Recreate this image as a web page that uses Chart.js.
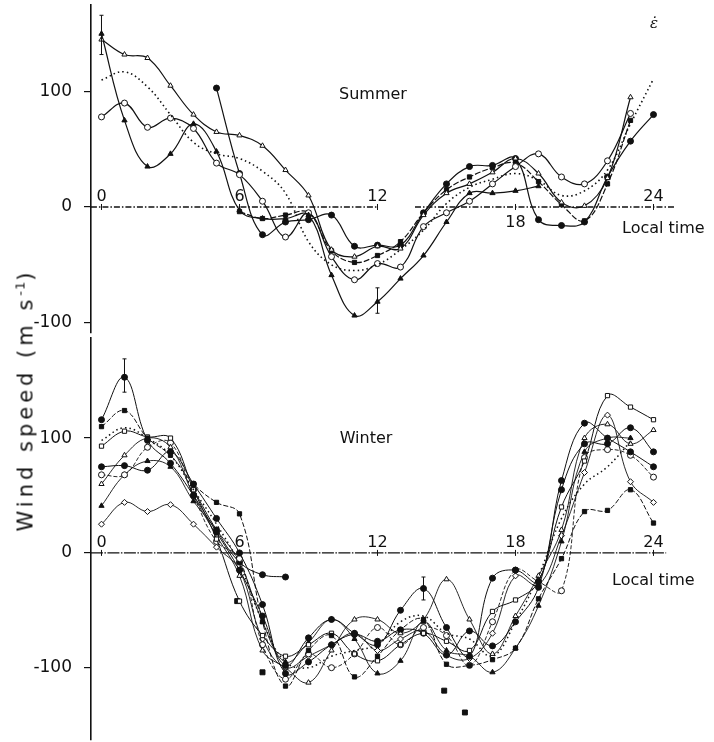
<!DOCTYPE html>
<html>
<head>
<meta charset="utf-8">
<script src="https://cdn.jsdelivr.net/npm/chart.js@4.4.1/dist/chart.umd.min.js"></script>
<style>
  html, body { margin: 0; background: #fff; overflow: hidden; }
  #wrap { position: relative; width: 714px; height: 742px; overflow: hidden; }
  #summer { position: absolute; left: 0; top: -20px; }
  #winter { position: absolute; left: 0; top: 316px; }
  #ytitle {
    position: absolute; left: 25px; top: 400px;
    transform: translate(-50%, -50%) rotate(-90deg);
    font: 21px "DejaVu Sans", sans-serif; letter-spacing: 4px;
    color: #111; white-space: nowrap;
  }
  #ytitle sup { font-size: 13px; letter-spacing: 1px; }
</style>
</head>
<body>
<div id="wrap">
  <canvas id="summer" width="714" height="380"></canvas>
  <canvas id="winter" width="714" height="446"></canvas>
  <div id="ytitle">Wind speed (m s<sup>-1</sup>)</div>
</div>
<script>
// local time, hours
var hours = [0,1,2,3,4,5,6,7,8,9,10,11,12,13,14,15,16,17,18,19,20,21,22,23,24];
var timeTicks = [0, 6, 12, 18, 24];
var speedTicks = [-100, 0, 100];

// summer curves (m/s)
var sOpenTri  = [145,132,129,105,80,65,62,53,32,10,-37,-43,-34,-36,-7,12,20,30,42,29,4,1,25,95,null];
var sFillTri  = [150,75,35,46,72,48,-3,-10,-10,-7,-59,-94,-82,-62,-42,-13,12,12,14,18,null,null,null,null,null];
var sDotted   = [110,117,104,80,56,46,42,31,12,-30,-50,-55,-50,-37,-20,3,17,24,29,23,10,14,32,72,111];
var sOpenCirc = [78,90,69,77,68,38,28,5,-26,-5,-43,-63,-49,-52,-17,-5,5,20,35,46,26,20,40,81,null];
var sFillCirc = [null,null,null,null,null,103,29,-24,-13,-11,-7,-34,-33,-33,-5,20,35,36,42,-11,-16,-13,26,57,80];
var sFillSq   = [null,null,null,null,null,null,-4,-10,-7,-5,-38,-48,-42,-30,-5,15,26,34,38,22,2,-12,20,75,null];

var sErrHours = [0, 12];
var sErrLo = [132, -92];
var sErrHi = [166, -70];

// winter curves (m/s)
var wFillCirc  = [116,153,98,78,50,18,-15,-55,-98,-74,-58,-70,-80,-50,-31,-65,-90,-22,-15,-25,63,113,100,88,75];
var wFillSq    = [110,124,100,85,60,44,34,-60,-116,-85,-72,-108,-90,-67,-58,-97,-98,-93,-83,-40,-5,36,37,55,26];
var wDotted    = [98,109,100,85,55,25,-10,-60,-95,-100,-90,-85,-80,-60,-55,-70,-75,-90,-60,-20,30,60,75,97,null];
var wOpenSq    = [93,106,101,100,55,12,-42,-72,-90,-80,-70,-88,-94,-80,-70,-77,-85,-51,-41,-25,40,80,137,127,116];
var wOpenTri   = [60,85,100,92,50,15,-20,-85,-100,-113,-85,-58,-58,-70,-58,-23,-58,-88,-55,-20,20,100,112,95,107];
var wFillCirc2 = [75,76,72,88,60,30,0,-45,-105,-95,-80,-71,-77,-67,-70,-89,-68,-81,-60,-30,55,95,95,109,88];
var wOpenCirc  = [68,68,92,96,50,10,-5,-80,-110,-88,-100,-88,-65,-80,-65,-72,-98,-60,-15,-25,-33,83,90,85,66];
var wFillTri   = [41,68,80,75,45,20,-8,-60,-95,-78,-58,-75,-105,-94,-60,-85,-90,-104,-83,-46,10,88,100,100,null];
var wDiamond   = [25,44,36,42,25,5,-15,-75,-100,-90,-80,-70,-85,-75,-68,-89,-92,-70,-20,-28,15,70,120,62,44];
var wShort     = [null,null,null,null,55,20,-8,-19,-21,null,null,null,null,null,null,null,null,null,null,null,null,null,null,null,null];

var wStrayHours  = [5.9, 7.0, 14.9, 15.8];
var wStrayValues = [-42, -104, -120, -139];

var wErrHours = [1, 14];
var wErrLo = [140, -41];
var wErrHi = [169, -21];

var xMin = -0.4565, xMax = 25.587;

function line(vals, st) {
  return {
    data: vals.map(function (v, i) { return { x: hours[i], y: v }; }),
    borderColor: '#111',
    borderWidth: st.w || 1.2,
    borderDash: st.dash || [],
    tension: 0.4,
    pointStyle: st.pt || 'circle',
    pointRadius: st.pt ? (st.r || 3) : 0,
    pointBackgroundColor: st.open ? '#fff' : '#111',
    pointBorderColor: '#111',
    pointBorderWidth: 1,
    spanGaps: false,
    clip: false
  };
}

function errBars(hrs, lo, hi) {
  return {
    id: 'errbars',
    afterDatasetsDraw: function (chart) {
      var ctx = chart.ctx, x = chart.scales.x, y = chart.scales.y;
      ctx.save();
      ctx.strokeStyle = '#111';
      ctx.lineWidth = 1;
      for (var i = 0; i < hrs.length; i++) {
        var px = x.getPixelForValue(hrs[i]);
        var a = y.getPixelForValue(lo[i]), b = y.getPixelForValue(hi[i]);
        ctx.beginPath();
        ctx.moveTo(px, a); ctx.lineTo(px, b);
        ctx.moveTo(px - 2, a); ctx.lineTo(px + 2, a);
        ctx.moveTo(px - 2, b); ctx.lineTo(px + 2, b);
        ctx.stroke();
      }
      ctx.restore();
    }
  };
}

// zero line, hour labels and panel captions
function deco(o) {
  return {
    id: 'deco',
    beforeDatasetsDraw: function (chart) {
      var ctx = chart.ctx, x = chart.scales.x, y = chart.scales.y;
      var y0 = y.getPixelForValue(0);
      ctx.save();
      ctx.strokeStyle = '#111';
      ctx.lineWidth = 1.3;
      ctx.setLineDash(o.dash);
      o.runs.forEach(function (r) {
        ctx.beginPath();
        ctx.moveTo(x.getPixelForValue(r[0]), y0);
        ctx.lineTo(x.getPixelForValue(r[1]), y0);
        ctx.stroke();
      });
      ctx.setLineDash([]);
      ctx.lineWidth = 1;
      timeTicks.forEach(function (t) {
        var px = x.getPixelForValue(t);
        ctx.beginPath();
        ctx.moveTo(px, y0 - 3); ctx.lineTo(px, y0 + 3);
        ctx.stroke();
      });
      ctx.fillStyle = '#111';
      ctx.font = '16px "DejaVu Sans", sans-serif';
      ctx.textAlign = 'center';
      ctx.textBaseline = 'alphabetic';
      timeTicks.forEach(function (t) {
        var below = o.below.indexOf(t) >= 0;
        ctx.fillText(String(t), x.getPixelForValue(t), below ? y0 + 20 : y0 - 6);
      });
      ctx.textAlign = 'left';
      ctx.fillText('Local time', o.localX, y0 + o.localDy);
      ctx.textAlign = 'center';
      ctx.fillText(o.title, o.titleX, o.titleY);
      if (o.mark) {
        ctx.font = 'italic 15px "DejaVu Serif", serif';
        ctx.fillText(o.mark, o.markX, o.markY);
      }
      ctx.restore();
    }
  };
}

function makeChart(id, datasets, yMin, yMax, pad, plugins) {
  return new Chart(document.getElementById(id), {
    type: 'line',
    data: { datasets: datasets },
    options: {
      responsive: false,
      animation: false,
      layout: { padding: { left: 0, right: 24, top: pad[0], bottom: pad[1] } },
      plugins: { legend: { display: false }, tooltip: { enabled: false } },
      scales: {
        x: { type: 'linear', min: xMin, max: xMax, display: false },
        y: {
          min: yMin, max: yMax,
          afterBuildTicks: function (s) { s.ticks = speedTicks.map(function (v) { return { value: v }; }); },
          afterFit: function (s) { s.width = 91; },
          grid: { drawOnChartArea: false, drawTicks: true, tickLength: 7, color: '#111', lineWidth: 1.2 },
          border: { display: true, color: '#111', width: 1.6 },
          ticks: { color: '#111', padding: 12, font: { family: 'DejaVu Sans', size: 17 } }
        }
      }
    },
    plugins: plugins
  });
}

makeChart('summer', [
  line(sOpenTri,  { pt: 'triangle', open: true }),
  line(sFillTri,  { pt: 'triangle' }),
  line(sDotted,   { dash: [1.5, 3], w: 1.6 }),
  line(sOpenCirc, { pt: 'circle', open: true }),
  line(sFillCirc, { pt: 'circle' }),
  line(sFillSq,   { pt: 'rect', dash: [6, 2] })
], -109.1, 174.9, [25, 27], [
  deco({ runs: [[-0.46, 12.02], [13.63, 24.93]], dash: [6, 2, 1.5, 2], below: [18],
         localX: 622, localDy: 26, title: 'Summer', titleX: 373, titleY: 119,
         mark: 'ε̇', markX: 654, markY: 48 }),
  errBars(sErrHours, sErrLo, sErrHi)
]);

var stray = {
  data: wStrayHours.map(function (h, i) { return { x: h, y: wStrayValues[i] }; }),
  showLine: false,
  pointStyle: 'rect', pointRadius: 3.5,
  pointBackgroundColor: '#111', pointBorderColor: '#111',
  clip: false
};

makeChart('winter', [
  line(wFillCirc,  { pt: 'circle', w: 1 }),
  line(wFillSq,    { pt: 'rect', w: 1, dash: [5, 2] }),
  line(wDotted,    { dash: [1.5, 3], w: 1.5 }),
  line(wOpenSq,    { pt: 'rect', open: true, w: 1 }),
  line(wOpenTri,   { pt: 'triangle', open: true, w: 0.9 }),
  line(wFillCirc2, { pt: 'circle', w: 1 }),
  line(wOpenCirc,  { pt: 'circle', open: true, w: 0.9, dash: [4, 2] }),
  line(wFillTri,   { pt: 'triangle', w: 0.9 }),
  line(wDiamond,   { pt: 'rectRot', open: true, w: 0.9 }),
  line(wShort,     { pt: 'circle', w: 1 }),
  stray
], -162.8, 187.0, [21, 21], [
  deco({ runs: [[-0.46, 24.55]], dash: [12, 1.5, 1.5, 1.5], below: [],
         localX: 612, localDy: 32, title: 'Winter', titleX: 366, titleY: 127 }),
  errBars(wErrHours, wErrLo, wErrHi)
]);
</script>
</body>
</html>
